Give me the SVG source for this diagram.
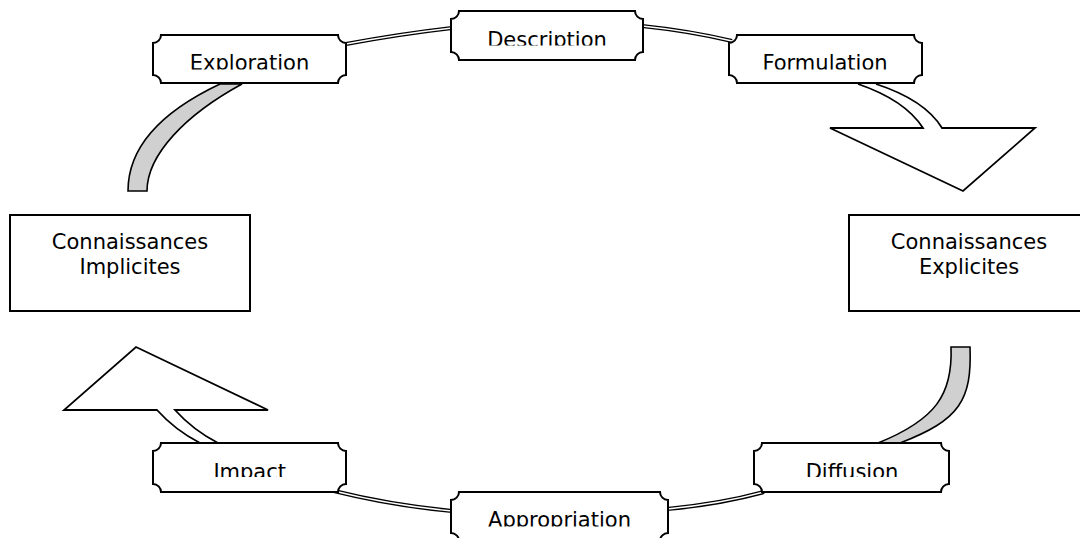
<svg xmlns="http://www.w3.org/2000/svg" width="1080" height="538" viewBox="0 0 1080 538">
<style>
.bg{fill:#fff}
.plaque{fill:#fff;stroke:#000;stroke-width:2}
.box{fill:#fff;stroke:#000;stroke-width:2}
.lbl{font-family:"DejaVu Sans","Liberation Sans",sans-serif;font-size:21px;fill:#000;text-anchor:middle}
.ro{fill:none;stroke:#000;stroke-width:4.2}
.ri{fill:none;stroke:#fff;stroke-width:1.4}
.band{fill:#d0d0d0;stroke:#000;stroke-width:1.6}
.arr{fill:#fff;stroke:#000;stroke-width:1.8;stroke-linejoin:miter}
</style>
<defs>
<clipPath id="cExp" clipPathUnits="userSpaceOnUse"><rect x="153" y="35" width="193" height="34.5"/></clipPath>
<clipPath id="cDes" clipPathUnits="userSpaceOnUse"><rect x="451" y="11" width="192" height="34.5"/></clipPath>
<clipPath id="cFor" clipPathUnits="userSpaceOnUse"><rect x="729" y="35" width="193" height="34.5"/></clipPath>
<clipPath id="cImp" clipPathUnits="userSpaceOnUse"><rect x="153" y="443" width="193" height="34"/></clipPath>
<clipPath id="cDif" clipPathUnits="userSpaceOnUse"><rect x="754" y="443" width="195" height="34"/></clipPath>
<clipPath id="cApp" clipPathUnits="userSpaceOnUse"><rect x="451" y="492" width="217" height="34.5"/></clipPath>
</defs>
<rect class="bg" x="0" y="0" width="1080" height="538"/>
<g id="connectors">
  <path class="ro" d="M346,44 Q400,34 452,28"/>
  <path class="ri" d="M346,44 Q400,34 452,28"/>
  <path class="ro" d="M642,26 Q690,31 732,41"/>
  <path class="ri" d="M642,26 Q690,31 732,41"/>
  <path class="ro" d="M334,491 Q390,505 452,511"/>
  <path class="ri" d="M334,491 Q390,505 452,511"/>
  <path class="ro" d="M667,509 Q720,504 764,492"/>
  <path class="ri" d="M667,509 Q720,504 764,492"/>
  <path class="band" d="M128,191 C128,145 165,110 220,84 L242,84 C185,115 147,155 147,191 Z"/>
  <path class="band" d="M970,347 C972,400 960,420 900,443 L878,443 C935,420 953,395 951,347 Z"/>
  <path class="arr" d="M858,84 Q905,100 923,128 L830,128 L963,191 L1035,128 L942,128 Q925,100 876,84"/>
  <path class="arr" d="M200,443 Q175,430 157,410 L64,410 L136,347 L268,410 L175,410 Q193,430 218,443"/>
</g>
<g id="node-implicites">
  <rect class="box" x="10" y="215" width="240" height="96"/>
  <text class="lbl" x="130" y="248.5">Connaissances</text>
  <text class="lbl" x="130" y="274">Implicites</text>
</g>
<g id="node-explicites">
  <rect class="box" x="849" y="215" width="240" height="96"/>
  <text class="lbl" x="969" y="248.5">Connaissances</text>
  <text class="lbl" x="969" y="274">Explicites</text>
</g>
<g id="node-exploration">
  <path class="plaque" d="M161,35 H338 A8 8 0 0 0 346,43 V75 A8 8 0 0 0 338,83 H161 A8 8 0 0 0 153,75 V43 A8 8 0 0 0 161,35 Z"/>
  <text class="lbl" x="249.5" y="70.3" clip-path="url(#cExp)">Exploration</text>
</g>
<g id="node-description">
  <path class="plaque" d="M459,11 H635 A8 8 0 0 0 643,19 V52 A8 8 0 0 0 635,60 H459 A8 8 0 0 0 451,52 V19 A8 8 0 0 0 459,11 Z"/>
  <text class="lbl" x="547" y="47" clip-path="url(#cDes)">Description</text>
</g>
<g id="node-formulation">
  <path class="plaque" d="M737,35 H914 A8 8 0 0 0 922,43 V75 A8 8 0 0 0 914,83 H737 A8 8 0 0 0 729,75 V43 A8 8 0 0 0 737,35 Z"/>
  <text class="lbl" x="825" y="70.3" clip-path="url(#cFor)">Formulation</text>
</g>
<g id="node-impact">
  <path class="plaque" d="M161,443 H338 A8 8 0 0 0 346,451 V484 A8 8 0 0 0 338,492 H161 A8 8 0 0 0 153,484 V451 A8 8 0 0 0 161,443 Z"/>
  <text class="lbl" x="249.7" y="479.3" clip-path="url(#cImp)">Impact</text>
</g>
<g id="node-diffusion">
  <path class="plaque" d="M762,443 H941 A8 8 0 0 0 949,451 V484 A8 8 0 0 0 941,492 H762 A8 8 0 0 0 754,484 V451 A8 8 0 0 0 762,443 Z"/>
  <text class="lbl" x="852" y="479.3" clip-path="url(#cDif)">Diffusion</text>
</g>
<g id="node-appropriation">
  <path class="plaque" d="M459,492 H660 A8 8 0 0 0 668,500 V533 A8 8 0 0 0 660,541 H459 A8 8 0 0 0 451,533 V500 A8 8 0 0 0 459,492 Z"/>
  <text class="lbl" x="559.5" y="527" clip-path="url(#cApp)">Appropriation</text>
</g>
</svg>
